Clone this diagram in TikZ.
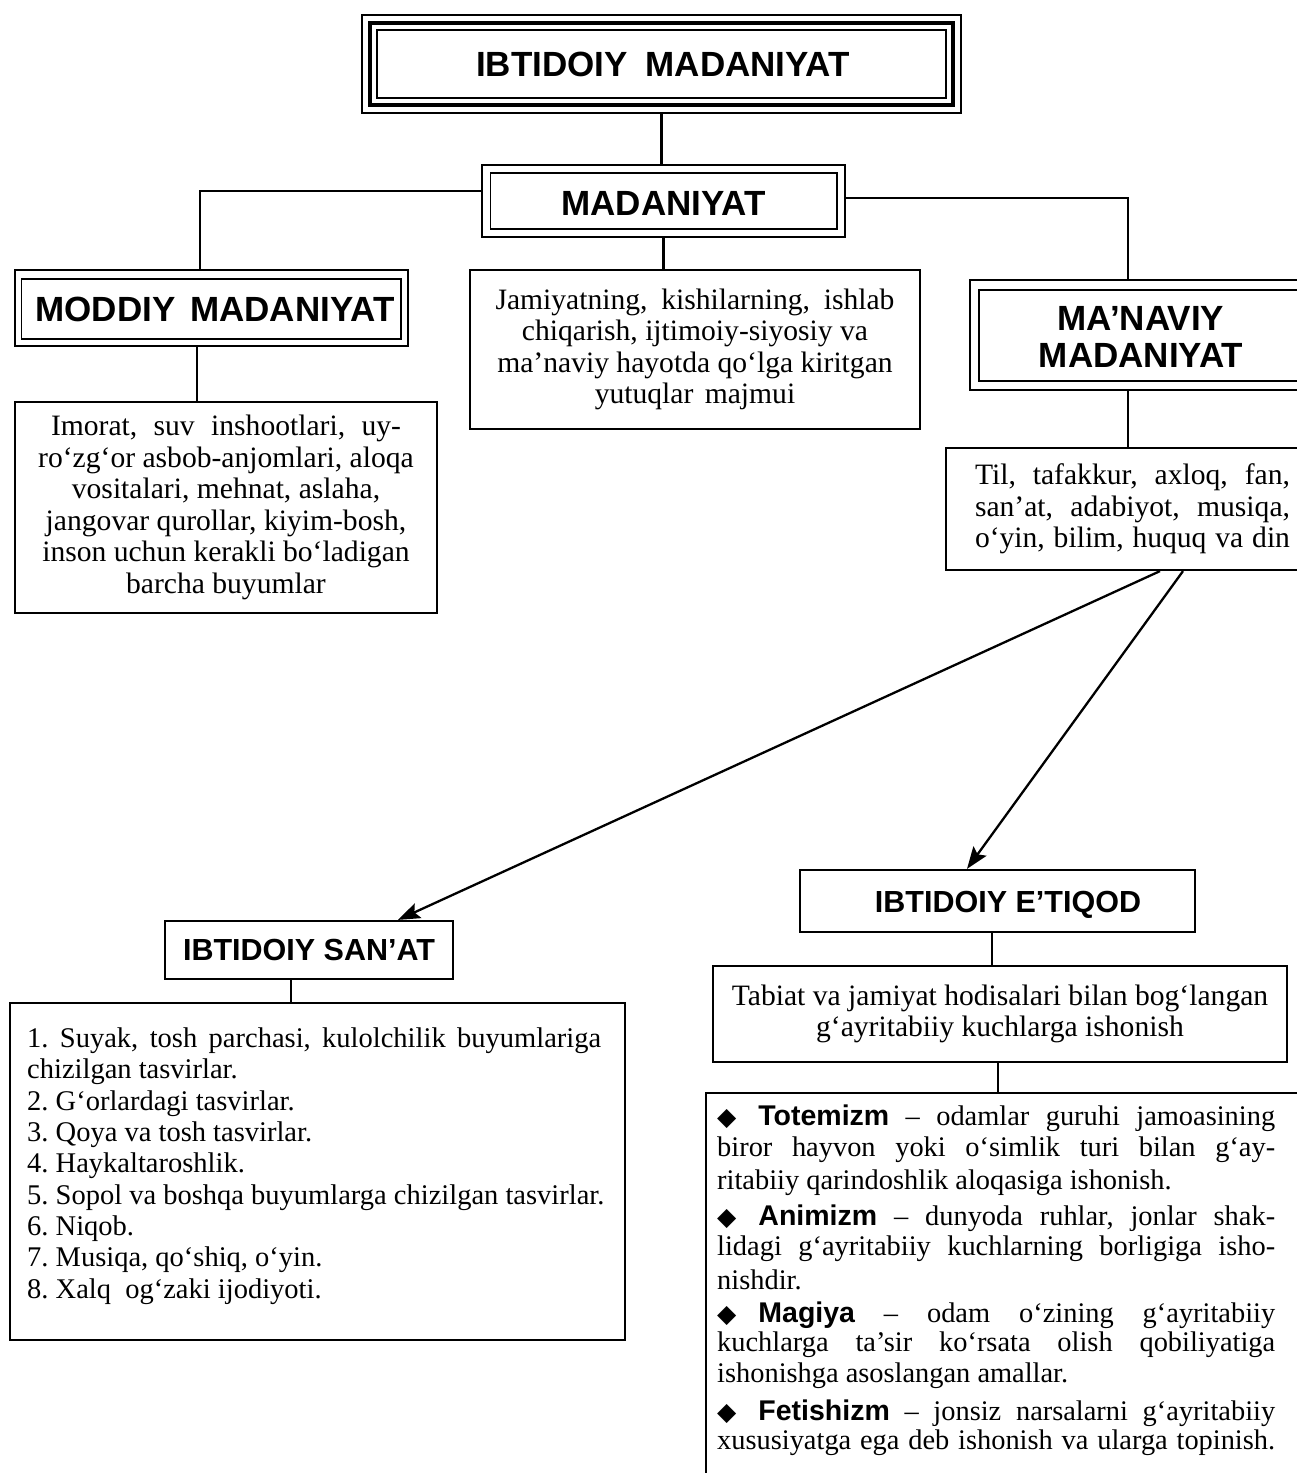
\documentclass[tikz,border=0pt]{standalone}
\usepackage{fontspec}
\setmainfont{Liberation Serif}
\setsansfont{Liberation Sans}
\newfontfamily\djv{DejaVu Sans}
\usetikzlibrary{arrows.meta}
\frenchspacing
\newcommand\bodyf{\frenchspacing\fontsize{29.6}{31.5}\selectfont}
\newcommand\listf{\frenchspacing\fontsize{28.5}{31.3}\selectfont}
\newcommand\botf{\frenchspacing\fontsize{28.4}{31.3}\selectfont}
\newcommand\headf{\sffamily\bfseries\fontsize{35}{37}\selectfont}
\newcommand\subheadf{\sffamily\bfseries\fontsize{30.5}{32}\selectfont}
\newcommand\termf{\sffamily\bfseries\fontsize{28.5}{30}\selectfont}
\newcommand\dia{{\djv\fontsize{25}{25}\selectfont ◆}\hspace{22pt}}
\newcommand\fl[1]{\makebox[558pt][s]{#1}}
\begin{document}
\begin{tikzpicture}[x=1pt,y=-1pt,
  box/.style={draw, line width=2.2pt, inner sep=0pt, rectangle},
  conn/.style={line width=2.3pt},
  arr/.style={line width=2.3pt, -{Stealth[length=22pt,width=16pt,inset=4pt]}},
  txt/.style={inner sep=0pt, font=\listf},
  bl/.style={inner sep=0pt, anchor=west, font=\botf}]
\path[use as bounding box, fill=white] (0,0) rectangle (1297,1473);
\clip (0,0) rectangle (1297,1473);

% top box
\node[box, line width=1.6pt, minimum width=599pt, minimum height=98pt] (top) at (661.5,64) {};
\draw[line width=4.2pt] ([shift={(9,9)}]top.north west) rectangle ([shift={(-9,-9)}]top.south east);
\draw[line width=1.6pt] ([shift={(16,16)}]top.north west) rectangle ([shift={(-16,-16)}]top.south east);
\node[font=\headf] (toptxt) at (663,64) {IBTIDOIY\hspace{8pt} MADANIYAT};

% madaniyat
\node[box, minimum width=363pt, minimum height=72pt] (mad) at (663.5,201) {};
\draw[line width=1.8pt] ([shift={(9.5,9)}]mad.north west) rectangle ([shift={(-9.5,-9)}]mad.south east);
\node[font=\headf] (madtxt) at (663.5,203) {MADANIYAT};

% moddiy
\node[box, minimum width=393pt, minimum height=76pt] (mod) at (211.5,308) {};
\draw[line width=1.8pt] ([shift={(7.5,10)}]mod.north west) rectangle ([shift={(-8,-8)}]mod.south east);
\node[font=\headf] (modtxt) at (215,309) {MODDIY\hspace{5pt} MADANIYAT};

% jamiyatning
\node[box, minimum width=450pt, minimum height=159pt, font=\bodyf, align=center] (jam) at (695,349.5)
 {\makebox[399pt][s]{Jamiyatning, kishilarning, ishlab}\\ chiqarish, ijtimoiy-siyosiy va\\ ma’naviy hayotda qo‘lga kiritgan\\ yutuqlar\hspace{4pt} majmui};

% ma'naviy
\node[box, minimum width=340pt, minimum height=110pt] (man) at (1140,335) {};
\draw[line width=1.8pt] ([shift={(10,11)}]man.north west) rectangle ([shift={(-10,-10)}]man.south east);
\node[font=\headf, align=center] (mantxt) at (1141,337) {MA’NAVIY\\MADANIYAT};

% imorat
\node[box, minimum width=422pt, minimum height=211pt, font=\bodyf, align=center] (imo) at (226,507.5)
 {\makebox[350pt][s]{Imorat, suv inshootlari, uy-}\\ ro‘zg‘or asbob-anjomlari, aloqa\\ vositalari, mehnat, aslaha,\\ jangovar qurollar, kiyim-bosh,\\ inson uchun kerakli bo‘ladigan\\ barcha buyumlar};

% til
\node[box, minimum width=373pt, minimum height=122pt, font=\bodyf, align=center] (til) at (1132.5,509)
 {\makebox[315pt][s]{Til, tafakkur, axloq, fan,}\\ \makebox[315pt][s]{san’at, adabiyot, musiqa,}\\ \makebox[315pt][s]{o‘yin, bilim, huquq va din}};

% san'at
\node[box, minimum width=288pt, minimum height=58pt, font=\subheadf] (san) at (309,950) {IBTIDOIY SAN’AT};

% e'tiqod
\node[box, minimum width=395pt, minimum height=62pt] (eti) at (997.5,901) {};
\node[font=\subheadf] (etitxt) at (1008,905) {IBTIDOIY E’TIQOD};

% list
\node[box, minimum width=615pt, minimum height=337pt] (lst) at (317.5,1171.5) {};
\node[txt, anchor=west, align=left] (lsttxt) at (27,1166)
 {\makebox[574pt][s]{1. Suyak, tosh parchasi, kulolchilik buyumlariga}\\ chizilgan tasvirlar.\\ 2. G‘orlardagi tasvirlar.\\ 3. Qoya va tosh tasvirlar.\\ 4. Haykaltaroshlik.\\ 5. Sopol va boshqa buyumlarga chizilgan tasvirlar.\\ 6. Niqob.\\ 7.\ Musiqa, qo‘shiq, o‘yin.\\ 8. Xalq\ \ og‘zaki ijodiyoti.};

% tabiat
\node[box, minimum width=574pt, minimum height=96pt, font=\bodyf, align=center] (tab) at (1000,1014)
 {Tabiat va jamiyat hodisalari bilan bog‘langan\\ g‘ayritabiiy kuchlarga ishonish};

% bottom box
\node[box, minimum width=614pt, minimum height=407pt] (bot) at (1013,1296.5) {};
\node[bl] (b1) at (717,1118) {\fl{\dia{\termf Totemizm} – odamlar guruhi jamoasining}};
\node[bl] (b2) at (717,1150) {\fl{biror hayvon yoki o‘simlik turi bilan g‘ay-}};
\node[bl] (b3) at (717,1183) {ritabiiy qarindoshlik aloqasiga ishonish.};
\node[bl] (b4) at (717,1218) {\fl{\dia{\termf Animizm} – dunyoda ruhlar, jonlar shak-}};
\node[bl] (b5) at (717,1249) {\fl{lidagi g‘ayritabiiy kuchlarning borligiga isho-}};
\node[bl] (b6) at (717,1280) {nishdir.};
\node[bl] (b7) at (717,1315) {\fl{\dia{\termf Magiya} – odam o‘zining g‘ayritabiiy}};
\node[bl] (b8) at (717,1345) {\fl{kuchlarga ta’sir ko‘rsata olish qobiliyatiga}};
\node[bl] (b9) at (717,1376) {ishonishga asoslangan amallar.};
\node[bl] (b10) at (717,1413) {\fl{\dia{\termf Fetishizm} – jonsiz narsalarni g‘ayritabiiy}};
\node[bl] (b11) at (717,1443) {\fl{xususiyatga ega deb ishonish va ularga topinish.}};

% connectors
\draw[conn] (top.south) -- (top.south |- mad.north);
\draw[conn] ([shift={(0,-10)}]mad.west) -| ([shift={(-11.5,0)}]mod.north);
\draw[conn] ([shift={(0,-3)}]mad.east) -| ([shift={(-12,0)}]man.north);
\draw[conn] (mad.south) -- (mad.south |- jam.north);
\draw[conn] ([shift={(-14.5,0)}]mod.south) -- ([shift={(-14.5,0)}]mod.south |- imo.north);
\draw[conn] ([shift={(-12,0)}]man.south) -- ([shift={(-12,0)}]man.south |- til.north);
\draw[arr] ([shift={(27.5,0)}]til.south) -- ([shift={(89,0)}]san.north);
\draw[arr] ([shift={(50.5,0)}]til.south) -- ([shift={(-30.5,0)}]eti.north);
\draw[conn] ([shift={(-18,0)}]san.south) -- ([shift={(-18,0)}]san.south |- lst.north);
\draw[conn] ([shift={(-5.5,0)}]eti.south) -- ([shift={(-5.5,0)}]eti.south |- tab.north);
\draw[conn] ([shift={(-2,0)}]tab.south) -- ([shift={(-2,0)}]tab.south |- bot.north);
\end{tikzpicture}
\end{document}
